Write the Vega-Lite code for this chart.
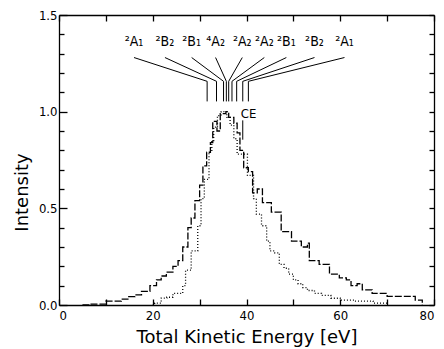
{
  "$schema": "https://vega.github.io/schema/vega-lite/v6.json",
  "width": 375,
  "height": 290,
  "autosize": {"type": "none"},
  "padding": {"left": 59, "top": 15, "right": 10, "bottom": 44},
  "config": {
    "view": {"stroke": null},
    "font": "DejaVu Sans Condensed",
    "axis": {
      "grid": false,
      "domainColor": "black",
      "domainWidth": 1.3,
      "tickColor": "black",
      "tickWidth": 1.3,
      "labelColor": "black",
      "labelFont": "DejaVu Sans Condensed",
      "labelFontSize": 13,
      "titleFont": "DejaVu Sans",
      "titleFontSize": 18,
      "titleFontWeight": "normal",
      "titleColor": "black"
    }
  },
  "datasets": {
    "hist": [
      {"E": 5.0, "I": 0.0, "s": "broad"},
      {"E": 6.5, "I": 0.005, "s": "broad"},
      {"E": 10.0, "I": 0.02, "s": "broad"},
      {"E": 13.3, "I": 0.03, "s": "broad"},
      {"E": 14.7, "I": 0.043, "s": "broad"},
      {"E": 16.2, "I": 0.052, "s": "broad"},
      {"E": 17.6, "I": 0.07, "s": "broad"},
      {"E": 19.4, "I": 0.1, "s": "broad"},
      {"E": 20.8, "I": 0.13, "s": "broad"},
      {"E": 21.8, "I": 0.15, "s": "broad"},
      {"E": 22.9, "I": 0.17, "s": "broad"},
      {"E": 24.3, "I": 0.2, "s": "broad"},
      {"E": 25.4, "I": 0.23, "s": "broad"},
      {"E": 26.4, "I": 0.3, "s": "broad"},
      {"E": 27.5, "I": 0.4, "s": "broad"},
      {"E": 28.2, "I": 0.45, "s": "broad"},
      {"E": 29.0, "I": 0.54, "s": "broad"},
      {"E": 30.0, "I": 0.62, "s": "broad"},
      {"E": 30.7, "I": 0.72, "s": "broad"},
      {"E": 31.5, "I": 0.79, "s": "broad"},
      {"E": 32.3, "I": 0.84, "s": "broad"},
      {"E": 32.8, "I": 0.95, "s": "broad"},
      {"E": 33.7, "I": 0.9, "s": "broad"},
      {"E": 34.4, "I": 0.99, "s": "broad"},
      {"E": 35.6, "I": 1.0, "s": "broad"},
      {"E": 36.2, "I": 0.97, "s": "broad"},
      {"E": 37.3, "I": 0.94, "s": "broad"},
      {"E": 38.0, "I": 0.89, "s": "broad"},
      {"E": 38.6, "I": 0.8, "s": "broad"},
      {"E": 39.4, "I": 0.71, "s": "broad"},
      {"E": 40.4, "I": 0.69, "s": "broad"},
      {"E": 41.3, "I": 0.58, "s": "broad"},
      {"E": 42.3, "I": 0.6, "s": "broad"},
      {"E": 43.4, "I": 0.53, "s": "broad"},
      {"E": 45.3, "I": 0.48, "s": "broad"},
      {"E": 47.4, "I": 0.38, "s": "broad"},
      {"E": 49.6, "I": 0.33, "s": "broad"},
      {"E": 51.7, "I": 0.3, "s": "broad"},
      {"E": 53.0, "I": 0.32, "s": "broad"},
      {"E": 53.4, "I": 0.23, "s": "broad"},
      {"E": 55.5, "I": 0.21, "s": "broad"},
      {"E": 57.7, "I": 0.16, "s": "broad"},
      {"E": 59.8, "I": 0.14, "s": "broad"},
      {"E": 61.3, "I": 0.13, "s": "broad"},
      {"E": 62.3, "I": 0.1, "s": "broad"},
      {"E": 63.6, "I": 0.11, "s": "broad"},
      {"E": 64.7, "I": 0.078, "s": "broad"},
      {"E": 66.8, "I": 0.06, "s": "broad"},
      {"E": 70.0, "I": 0.045, "s": "broad"},
      {"E": 76.0, "I": 0.025, "s": "broad"},
      {"E": 77.5, "I": 0.0, "s": "broad"},
      {"E": 20.0, "I": 0.0, "s": "narrow"},
      {"E": 20.4, "I": 0.01, "s": "narrow"},
      {"E": 21.8, "I": 0.036, "s": "narrow"},
      {"E": 23.0, "I": 0.04, "s": "narrow"},
      {"E": 24.3, "I": 0.06, "s": "narrow"},
      {"E": 26.4, "I": 0.1, "s": "narrow"},
      {"E": 27.0, "I": 0.18, "s": "narrow"},
      {"E": 28.2, "I": 0.28, "s": "narrow"},
      {"E": 29.6, "I": 0.41, "s": "narrow"},
      {"E": 30.3, "I": 0.55, "s": "narrow"},
      {"E": 31.0, "I": 0.65, "s": "narrow"},
      {"E": 32.0, "I": 0.79, "s": "narrow"},
      {"E": 32.6, "I": 0.85, "s": "narrow"},
      {"E": 33.0, "I": 0.92, "s": "narrow"},
      {"E": 33.8, "I": 0.98, "s": "narrow"},
      {"E": 34.6, "I": 1.0, "s": "narrow"},
      {"E": 35.8, "I": 0.97, "s": "narrow"},
      {"E": 36.5, "I": 0.93, "s": "narrow"},
      {"E": 37.3, "I": 0.86, "s": "narrow"},
      {"E": 38.0, "I": 0.78, "s": "narrow"},
      {"E": 40.2, "I": 0.67, "s": "narrow"},
      {"E": 41.5, "I": 0.55, "s": "narrow"},
      {"E": 42.1, "I": 0.47, "s": "narrow"},
      {"E": 43.2, "I": 0.41, "s": "narrow"},
      {"E": 44.3, "I": 0.33, "s": "narrow"},
      {"E": 45.0, "I": 0.28, "s": "narrow"},
      {"E": 46.0, "I": 0.27, "s": "narrow"},
      {"E": 47.0, "I": 0.21, "s": "narrow"},
      {"E": 48.0, "I": 0.19, "s": "narrow"},
      {"E": 49.0, "I": 0.16, "s": "narrow"},
      {"E": 50.0, "I": 0.13, "s": "narrow"},
      {"E": 51.0, "I": 0.11, "s": "narrow"},
      {"E": 52.0, "I": 0.09, "s": "narrow"},
      {"E": 53.0, "I": 0.075, "s": "narrow"},
      {"E": 54.5, "I": 0.06, "s": "narrow"},
      {"E": 56.0, "I": 0.05, "s": "narrow"},
      {"E": 58.0, "I": 0.035, "s": "narrow"},
      {"E": 60.0, "I": 0.025, "s": "narrow"},
      {"E": 63.0, "I": 0.02, "s": "narrow"},
      {"E": 67.0, "I": 0.01, "s": "narrow"},
      {"E": 70.0, "I": 0.0, "s": "narrow"}
    ],
    "states": [
      {"label": "²A₁", "Elab": 16.0, "Estate": 31.6},
      {"label": "²B₂", "Elab": 22.6, "Estate": 33.6},
      {"label": "²B₁", "Elab": 28.3, "Estate": 35.1},
      {"label": "⁴A₂", "Elab": 33.4, "Estate": 35.7},
      {"label": "²A₂", "Elab": 39.1, "Estate": 36.2},
      {"label": "²A₂", "Elab": 43.8, "Estate": 36.9},
      {"label": "²B₁", "Elab": 48.5, "Estate": 37.9},
      {"label": "²B₂", "Elab": 54.5, "Estate": 39.2},
      {"label": "²A₁", "Elab": 60.9, "Estate": 40.4}
    ],
    "ce": [{"label": "CE", "E": 39.2}]
  },
  "layer": [
    {
      "data": {"name": "hist"},
      "mark": {"type": "line", "interpolate": "step-after", "color": "black", "strokeWidth": 1.3},
      "encoding": {
        "x": {
          "field": "E", "type": "quantitative",
          "scale": {"domain": [0, 80], "nice": false, "zero": false},
          "axis": {
            "orient": "bottom",
            "values": [0, 10, 20, 30, 40, 50, 60, 70, 80],
            "labelExpr": "datum.value % 20 == 0 ? datum.label : ''",
            "tickSize": -6,
            "labelPadding": 10,
            "title": "Total Kinetic Energy [eV]",
            "titlePadding": 6
          }
        },
        "y": {
          "field": "I", "type": "quantitative",
          "scale": {"domain": [0, 1.5], "nice": false},
          "axis": {
            "orient": "left",
            "values": [0, 0.1, 0.2, 0.3, 0.4, 0.5, 0.6, 0.7, 0.8, 0.9, 1.0, 1.1, 1.2, 1.3, 1.4, 1.5],
            "format": ".1f",
            "labelExpr": "abs(datum.value * 2 - round(datum.value * 2)) < 0.001 ? datum.label : ''",
            "tickSize": {"condition": {"test": "abs(datum.value * 2 - round(datum.value * 2)) < 0.001", "value": -8}, "value": -5},
            "labelPadding": 10,
            "title": "Intensity",
            "titlePadding": 7,
            "titleY": 177
          }
        },
        "detail": {"field": "s"},
        "strokeDash": {
          "field": "s", "type": "nominal",
          "scale": {"domain": ["broad", "narrow"], "range": [[7, 2], [1, 2]]},
          "legend": null
        }
      }
    },
    {
      "data": {"name": "states"},
      "mark": {"type": "rule", "color": "black", "strokeWidth": 1},
      "encoding": {
        "x": {"field": "Elab", "type": "quantitative", "scale": {"domain": [0, 80], "nice": false},
          "axis": {"orient": "top", "values": [0, 10, 20, 30, 40, 50, 60, 70, 80], "labels": false, "tickSize": -6, "title": null}},
        "x2": {"field": "Estate"},
        "y": {"datum": 1.28, "type": "quantitative", "scale": {"domain": [0, 1.5], "nice": false},
          "axis": {"orient": "right", "values": [0, 0.1, 0.2, 0.3, 0.4, 0.5, 0.6, 0.7, 0.8, 0.9, 1.0, 1.1, 1.2, 1.3, 1.4, 1.5], "labels": false, "tickSize": -5, "title": null}},
        "y2": {"datum": 1.157}
      }
    },
    {
      "data": {"name": "states"},
      "mark": {"type": "rule", "color": "black", "strokeWidth": 1},
      "encoding": {
        "x": {"field": "Estate", "type": "quantitative", "axis": null},
        "y": {"datum": 1.157, "type": "quantitative", "axis": null},
        "y2": {"datum": 1.053}
      }
    },
    {
      "data": {"name": "states"},
      "mark": {"type": "text", "color": "black", "fontSize": 14, "baseline": "middle", "align": "center"},
      "encoding": {
        "x": {"field": "Elab", "type": "quantitative", "axis": null},
        "y": {"datum": 1.36, "type": "quantitative", "axis": null},
        "text": {"field": "label"}
      }
    },
    {
      "data": {"name": "ce"},
      "mark": {"type": "text", "color": "black", "fontSize": 13, "baseline": "middle", "align": "left", "dx": -2},
      "encoding": {
        "x": {"field": "E", "type": "quantitative", "axis": null},
        "y": {"datum": 0.99, "type": "quantitative", "axis": null},
        "text": {"field": "label"}
      }
    },
    {
      "data": {"name": "ce"},
      "mark": {"type": "rule", "color": "black", "strokeWidth": 1},
      "encoding": {
        "x": {"field": "E", "type": "quantitative", "axis": null},
        "y": {"datum": 0.955, "type": "quantitative", "axis": null},
        "y2": {"datum": 0.855}
      }
    }
  ],
  "resolve": {"axis": {"x": "independent", "y": "independent"}}
}
